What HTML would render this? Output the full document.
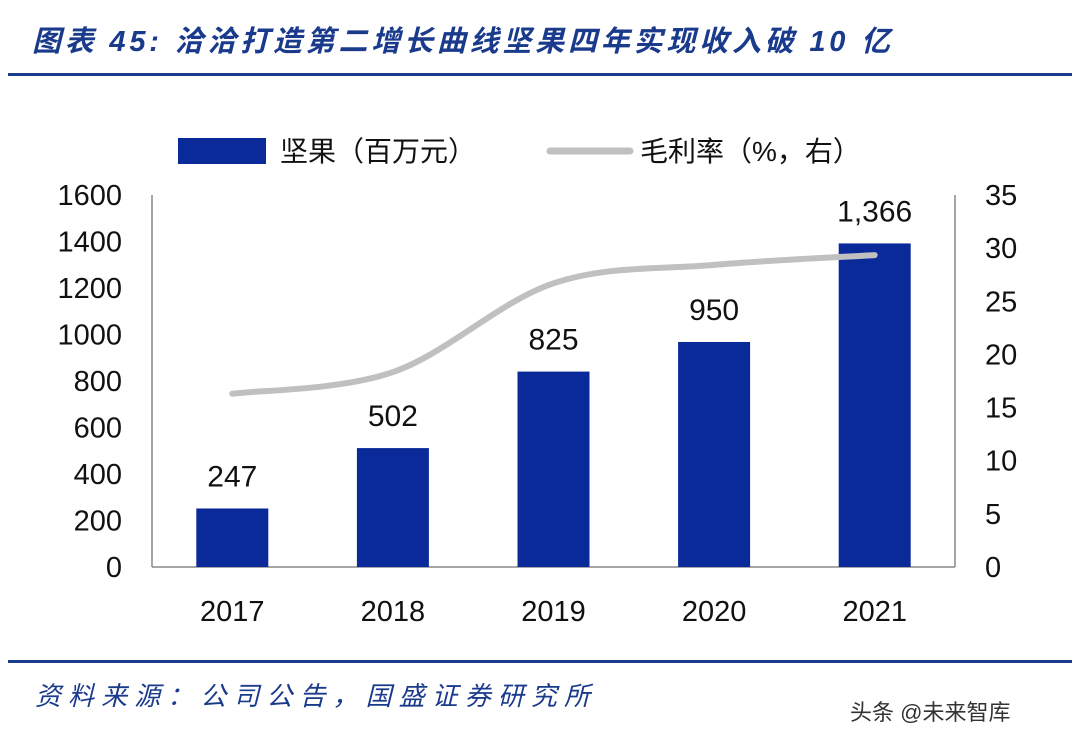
<!DOCTYPE html>
<html><head><meta charset="utf-8"><style>
body{margin:0;width:1080px;height:738px;background:#fff;overflow:hidden;font-family:"Liberation Sans","Noto Sans CJK SC",sans-serif;}
</style></head><body>
<svg id="c" width="1080" height="738" style="position:absolute;left:0;top:0">
<text x="32" y="51" font-size="29" font-style="italic" font-weight="bold" fill="#1a3a8c" textLength="858" lengthAdjust="spacing" font-family="Liberation Sans,Noto Sans CJK SC,sans-serif">图表 45:  洽洽打造第二增长曲线坚果四年实现收入破 10 亿</text>
<rect x="8" y="73" width="1064" height="3" fill="#1a3a8c"/>
<rect x="8" y="660" width="1064" height="3" fill="#1a3a8c"/>
<text x="35" y="705" font-size="26" font-style="italic" fill="#1a3a8c" textLength="555" lengthAdjust="spacing" font-family="Liberation Sans,Noto Sans CJK SC,sans-serif">资料来源：公司公告，国盛证券研究所</text>
<text x="850" y="720" font-size="22" fill="#333" font-family="Liberation Sans,Noto Sans CJK SC,sans-serif">头条 @未来智库</text>
<g>
<rect x="178" y="138" width="88" height="26" fill="#0a2a9a"/>
<text x="280" y="161" font-size="28" fill="#111" font-family="Liberation Sans,Noto Sans CJK SC,sans-serif">坚果（百万元）</text>
<line x1="550" y1="151" x2="630" y2="151" stroke="#c0c0c0" stroke-width="7" stroke-linecap="round"/>
<text x="640" y="161" font-size="28" fill="#111" font-family="Liberation Sans,Noto Sans CJK SC,sans-serif">毛利率（%，右）</text>
</g>
</svg>
<script>
const categories=["2017","2018","2019","2020","2021"];
const nutRevenue=[247,502,825,950,1366];
const nutLabels=["247","502","825","950","1,366"];
const grossMargin=[16.0,18.0,26.2,27.9,28.8];
const leftTicks=[0,200,400,600,800,1000,1200,1400,1600];
const rightTicks=[0,5,10,15,20,25,30,35];
const NS="http://www.w3.org/2000/svg";
const svg=document.getElementById('c');
const x0=152,x1=955,yTop=188,yBot=567;
const band=(x1-x0)/categories.length;
const xc=i=>x0+band*(i+0.5);
const yL=v=>yBot-(v/1600)*(yBot-yTop);
const yR=v=>yBot-(v/35)*(yBot-yTop);
function mk(t,a){const e=document.createElementNS(NS,t);for(const k in a)e.setAttribute(k,a[k]);svg.appendChild(e);return e;}
const F="Liberation Sans,sans-serif";
leftTicks.forEach(v=>{const t=mk('text',{x:122,y:yL(v)+10+7*(v/1600),'font-size':29,'text-anchor':'end','font-family':F,fill:'#111'});t.textContent=v;

});
rightTicks.forEach(v=>{const t=mk('text',{x:985,y:yR(v)+10+7*(v/35),'font-size':29,'text-anchor':'start','font-family':F,fill:'#111'});t.textContent=v;

});
let a=mk('line',{x1:x0,y1:195,x2:x0,y2:yBot,stroke:'#888','stroke-width':1.5});


a=mk('line',{x1:x1,y1:195,x2:x1,y2:yBot,stroke:'#888','stroke-width':1.5});


a=mk('line',{x1:x0,y1:yBot,x2:x1,y2:yBot,stroke:'#888','stroke-width':1.5});


categories.forEach((c,i)=>{
const r=mk('rect',{x:xc(i)-36,y:yL(nutRevenue[i]),width:72,height:yBot-yL(nutRevenue[i]),fill:'#0a2a9a'});


const l=mk('text',{x:xc(i),y:yL(nutRevenue[i])-22,'font-size':30,'text-anchor':'middle','font-family':F,fill:'#111'});l.textContent=nutLabels[i];


const t=mk('text',{x:xc(i),y:621,'font-size':29,'text-anchor':'middle','font-family':F,fill:'#111'});t.textContent=c;


});
const pts=grossMargin.map((v,i)=>[xc(i),yR(v)]);
let d='M'+pts[0][0]+','+pts[0][1];
for(let i=0;i<pts.length-1;i++){const p0=pts[i-1]||pts[i],p1=pts[i],p2=pts[i+1],p3=pts[i+2]||p2;
const c1=[p1[0]+(p2[0]-p0[0])/6,p1[1]+(p2[1]-p0[1])/6],c2=[p2[0]-(p3[0]-p1[0])/6,p2[1]-(p3[1]-p1[1])/6];
d+=` C${c1[0]},${c1[1]} ${c2[0]},${c2[1]} ${p2[0]},${p2[1]}`;}
const ln=mk('path',{d:d,fill:'none',stroke:'#c0c0c0','stroke-width':6,'stroke-linecap':'round'});


</script>
</body></html>
